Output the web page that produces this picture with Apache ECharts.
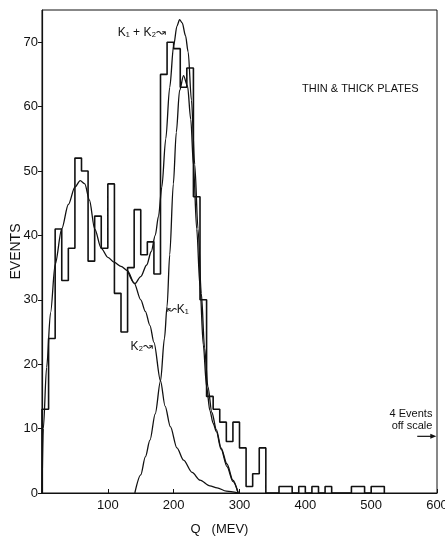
<!DOCTYPE html>
<html>
<head>
<meta charset="utf-8">
<script src="https://cdn.jsdelivr.net/npm/echarts@6/dist/echarts.min.js"></script>
<style>
  html, body { margin: 0; padding: 0; background: #fff; }
  #main { width: 445px; height: 536px; }
</style>
</head>
<body>
<div id="main"></div>
<script>
// histogram, 10 MeV bins (left edge of each bin)
const binStart = [0, 10, 20, 30, 40, 50, 60, 70, 80, 90, 100, 110, 120, 130, 140, 150, 160, 170,
  180, 190, 200, 210, 220, 230, 240, 250, 260, 270, 280, 290, 300, 310, 320, 330, 340, 350,
  360, 370, 380, 390, 400, 410, 420, 430, 440, 450, 460, 470, 480, 490, 500, 510]
const binCount = [13, 24, 41, 33, 38, 52, 50, 36, 43, 38, 48, 31, 25, 35, 44, 37, 39, 34,
  65, 70, 69, 63, 66, 46, 30, 15, 13, 11, 8, 11, 7, 1, 3, 7, 0, 0,
  1, 1, 0, 1, 0, 1, 0, 1, 0, 0, 0, 1, 1, 0, 1, 1]
const binWidth = 10

// fitted curves
const k1Q = [141, 150, 157, 164, 172, 180, 186, 190, 194, 199.5, 204, 209, 215, 221, 226, 230, 235, 240, 245, 250, 255, 260, 265, 272, 281, 290, 298]
const k1Val = [0, 2.8, 5.6, 8.2, 12.3, 17.4, 24, 29, 37, 48, 56, 62.5, 64.8, 63.2, 58, 51, 41, 32, 23, 16.5, 12.8, 10.8, 9.5, 6.8, 4.1, 1.8, 0]

const k2Q = [0, 2, 7, 13, 20, 30, 40, 50, 58, 65, 72, 80, 90, 100, 110, 120, 130, 140, 150, 157, 164, 170, 180, 187, 195, 205, 215, 228, 240, 255, 266, 280, 298]
const k2Val = [0, 10, 19.5, 28, 35.5, 41, 44.8, 47.5, 48.5, 48, 45.5, 41, 38, 36.6, 35.8, 35.2, 34.5, 32.6, 30, 28.2, 26, 23.4, 17.4, 13.5, 10.3, 7, 5.1, 3.2, 2, 1.1, 0.8, 0.3, 0]

const sumQ = [130, 141, 150, 159, 166, 172, 177, 182, 188, 194, 200, 205, 209, 213, 218, 222, 227, 232, 237, 242, 247, 252, 258, 265, 272, 281, 290, 298]
const sumVal = [34.5, 32.5, 33.6, 35.4, 37.5, 40, 43, 47.5, 55, 63, 69.5, 72.5, 73.5, 73, 71, 68.5, 61, 51, 41, 31, 22.5, 16.5, 12.5, 9.8, 7, 4.5, 2, 0]

const xTicks = [100, 200, 300, 400, 500, 600]
const yTicks = [0, 10, 20, 30, 40, 50, 60, 70]

const ink = '#111'
const font = 'Liberation Sans, Arial, sans-serif'

function pairs (xs, ys) {
  return xs.map((x, i) => [x, ys[i]])
}

let histData = [[binStart[0], 0]].concat(pairs(binStart, binCount))
histData.push([binStart[binStart.length - 1] + binWidth, 0])

let myChart = echarts.init(document.getElementById('main'))

function curve (name, data) {
  return {
    name: name,
    type: 'line',
    data: data,
    showSymbol: false,
    smooth: 0.3,
    smoothMonotone: 'x',
    lineStyle: { color: ink, width: 1.3 },
    silent: true,
    z: 3
  }
}

myChart.setOption({
  backgroundColor: '#fff',
  animation: false,
  grid: {
    left: 42,
    right: 8,
    top: 10,
    bottom: 43,
    outerBoundsMode: 'none',
    containLabel: false,
    show: true,
    borderColor: ink,
    borderWidth: 1
  },
  xAxis: {
    type: 'value',
    min: 0,
    max: 600,
    name: 'Q   (MEV)',
    nameLocation: 'middle',
    nameGap: 30,
    nameMoveOverlap: false,
    nameTextStyle: { color: ink, fontFamily: font, fontSize: 13, padding: [0, 40, 0, 0] },
    axisLine: { lineStyle: { color: ink, width: 1.2 } },
    axisTick: { inside: true, length: 4, customValues: xTicks, lineStyle: { color: ink } },
    axisLabel: { color: ink, fontFamily: font, fontSize: 13, margin: 6, customValues: xTicks },
    splitLine: { show: false }
  },
  yAxis: {
    type: 'value',
    min: 0,
    max: 75,
    name: 'EVENTS',
    nameLocation: 'middle',
    nameGap: 19,
    nameMoveOverlap: false,
    nameTextStyle: { color: ink, fontFamily: font, fontSize: 14 },
    axisLine: { show: true, lineStyle: { color: ink, width: 1.2 } },
    axisTick: { show: true, length: 4, customValues: yTicks, lineStyle: { color: ink } },
    axisLabel: { color: ink, fontFamily: font, fontSize: 13, margin: 4, customValues: yTicks },
    splitLine: { show: false }
  },
  series: [
    {
      name: 'Histogram',
      type: 'line',
      step: 'end',
      data: histData,
      showSymbol: false,
      lineStyle: { color: ink, width: 1.6 },
      silent: true,
      z: 4
    },
    curve('K2', pairs(k2Q, k2Val)),
    curve('K1', pairs(k1Q, k1Val)),
    curve('K1+K2', pairs(sumQ, sumVal))
  ]
})

// annotations placed in data coordinates
function px (q, v) {
  return myChart.convertToPixel({ gridIndex: 0 }, [q, v])
}

function label (q, v, text, align, size) {
  let p = px(q, v)
  return {
    type: 'text',
    x: p[0],
    y: p[1],
    silent: true,
    style: {
      text: text,
      fill: ink,
      font: (size || 12) + 'px ' + font,
      align: align || 'left',
      verticalAlign: 'middle'
    }
  }
}

let arrowA = px(570, 8.8)
let arrowB = px(599, 8.8)

myChart.setOption({
  graphic: [
    label(115, 71.5, 'K\u2081 + K\u2082\u219D', 'left', 12),
    label(189.5, 28.5, '\u219CK\u2081', 'left', 12),
    label(169, 22.7, 'K\u2082\u219D', 'right', 12),
    label(395, 62.7, 'THIN & THICK PLATES', 'left', 11),
    label(593, 12.3, '4 Events', 'right', 11),
    label(593, 10.4, 'off scale', 'right', 11),
    {
      type: 'line',
      silent: true,
      shape: { x1: arrowA[0], y1: arrowA[1], x2: arrowB[0] - 4, y2: arrowB[1] },
      style: { stroke: ink, lineWidth: 1.2 }
    },
    {
      type: 'polygon',
      silent: true,
      shape: { points: [[arrowB[0], arrowB[1]], [arrowB[0] - 6, arrowB[1] - 2.5], [arrowB[0] - 6, arrowB[1] + 2.5]] },
      style: { fill: ink }
    }
  ]
})
</script>
</body>
</html>
